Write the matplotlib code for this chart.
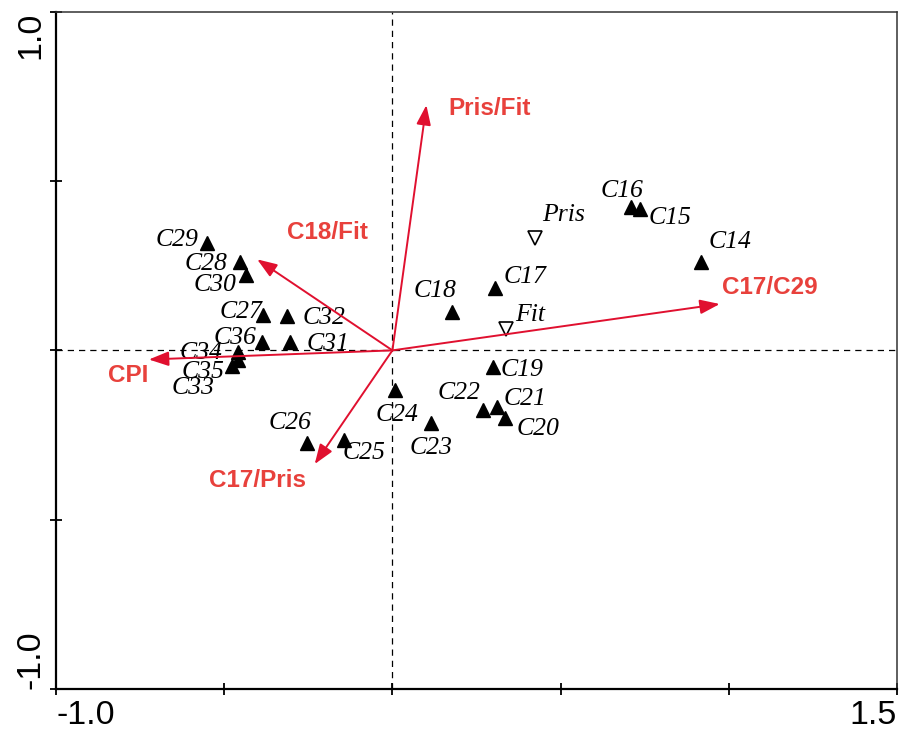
import numpy as np
import matplotlib.pyplot as plt

# sample scores (filled triangles)
samples = ['C14', 'C15', 'C16', 'C17', 'C18', 'C19', 'C20', 'C21', 'C22', 'C23',
           'C24', 'C25', 'C26', 'C27', 'C28', 'C29', 'C30', 'C31', 'C32', 'C33',
           'C34', 'C35', 'C36']
samp_x = [0.916, 0.737, 0.710, 0.305, 0.177, 0.299, 0.334, 0.310, 0.270, 0.116,
          0.007, -0.145, -0.254, -0.385, -0.452, -0.551, -0.434, -0.305, -0.313, -0.476,
          -0.460, -0.459, -0.389]
samp_y = [0.262, 0.419, 0.424, 0.185, 0.112, -0.050, -0.201, -0.167, -0.177, -0.214,
          -0.117, -0.266, -0.273, 0.104, 0.262, 0.316, 0.223, 0.025, 0.101, -0.046,
          -0.005, -0.027, 0.025]

# passive variables (open triangles)
passive = ['Pris', 'Fit']
pass_x = [0.423, 0.339]
pass_y = [0.333, 0.062]

# explanatory ratios (arrows)
ratios = ['Pris/Fit', 'C17/C29', 'C18/Fit', 'CPI', 'C17/Pris']
ratio_x = [0.101, 0.973, -0.402, -0.724, -0.231]
ratio_y = [0.725, 0.137, 0.269, -0.027, -0.336]

# label offsets in pixels from the marker / arrow tip
samp_off = {'C14': (29, 20), 'C15': (30, -9), 'C16': (-9, 16), 'C17': (30, 11),
            'C18': (-17, 21), 'C19': (29, -3), 'C20': (33, -11), 'C21': (28, 8),
            'C22': (-24, 17), 'C23': (0, -25), 'C24': (2, -25), 'C25': (20, -13),
            'C26': (-17, 20), 'C27': (-22, 3), 'C28': (-34, -2), 'C29': (-30, 3),
            'C30': (-31, -10), 'C31': (38, -2), 'C32': (37, -2), 'C33': (-39, -22),
            'C34': (-37, -1), 'C35': (-35, -12), 'C36': (-27, 4)}
pass_off = {'Pris': (29, 23), 'Fit': (24, 14)}
ratio_off = {'Pris/Fit': (63, -3), 'C17/C29': (50, 17), 'C18/Fit': (70, 27),
             'CPI': (-21, -16), 'C17/Pris': (-57, -16)}

arrow_col = '#e0102f'
label_col = '#e8413c'
serif_it = dict(family='Liberation Serif', style='italic', size=18.5)
sans_bold = dict(family='Liberation Sans', weight='bold', size=17.5)

fig = plt.figure(figsize=(8.99, 7.33), dpi=100)
ax = fig.add_axes([0.0623, 0.0604, 0.9355, 0.9232])
ax.set_xlim(-1.0, 1.5)
ax.set_ylim(-1.0, 1.0)

ax.axhline(0, color='black', lw=0.9, ls=(0, (5, 4)), zorder=1)
ax.axvline(0, color='black', lw=0.9, ls=(0, (5, 4)), zorder=1)

ax.plot(samp_x, samp_y, '^', color='black', ms=10, zorder=3)
ax.plot(pass_x, pass_y, 'v', mfc='white', mec='black', mew=1.2, ms=10, zorder=3)

for name, x, y in zip(samples, samp_x, samp_y):
    ax.annotate(name, (x, y), xytext=samp_off[name], textcoords='offset pixels',
                ha='center', va='center', zorder=4, **serif_it)
for name, x, y in zip(passive, pass_x, pass_y):
    ax.annotate(name, (x, y), xytext=pass_off[name], textcoords='offset pixels',
                ha='center', va='center', zorder=4, **serif_it)

for name, x, y in zip(ratios, ratio_x, ratio_y):
    ax.annotate('', xy=(x, y), xytext=(0, 0),
                arrowprops=dict(arrowstyle='-|>,head_length=0.6,head_width=0.22',
                                color=arrow_col, lw=1.4, shrinkA=0, shrinkB=0,
                                mutation_scale=20), zorder=5)
    ax.annotate(name, (x, y), xytext=ratio_off[name], textcoords='offset pixels',
                ha='center', va='center', color=label_col, zorder=6, **sans_bold)

# frame and ticks
for side in ['left', 'bottom']:
    ax.spines[side].set_linewidth(1.6)
for side in ['top', 'right']:
    ax.spines[side].set_linewidth(1.1)
    ax.spines[side].set_color('#333333')

ax.set_xticks([-1.0, -0.5, 0.0, 0.5, 1.0, 1.5])
ax.set_xticklabels(['-1.0', '', '', '', '', '1.5'])
ax.set_yticks([-1.0, -0.5, 0.0, 0.5, 1.0])
ax.set_yticklabels(['-1.0', '', '', '', '1.0'], rotation=90)
ax.tick_params(direction='inout', length=8, width=1.3, labelsize=24.5)
ax.tick_params(axis='x', pad=4)
ax.tick_params(axis='y', pad=3)
for lbl in ax.get_xticklabels() + ax.get_yticklabels():
    lbl.set_family('Liberation Sans')
xl = ax.get_xticklabels()
xl[0].set_ha('left')
xl[-1].set_ha('right')
yl = ax.get_yticklabels()
yl[0].set_va('bottom')
yl[-1].set_va('top')

plt.savefig('out.png', dpi=100)
